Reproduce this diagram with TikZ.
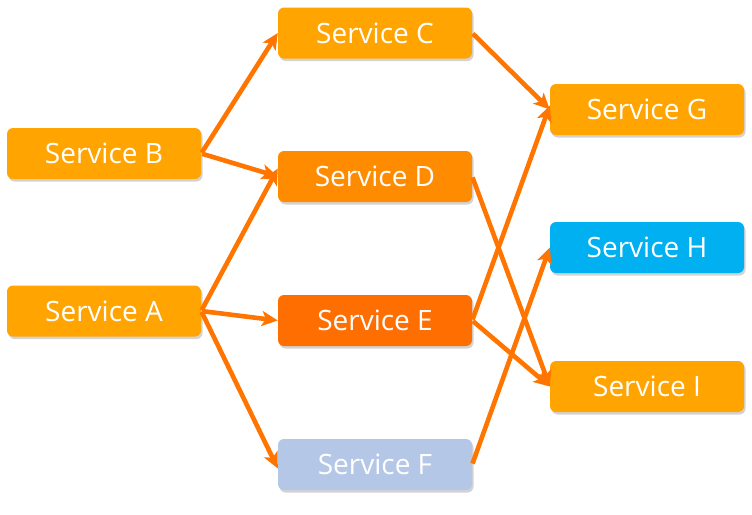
\documentclass[tikz,border=0pt]{standalone}
\usepackage{fontspec}
\setmainfont{Open Sans}
\usetikzlibrary{arrows.meta,shadows}
\definecolor{orA}{HTML}{FFA400}
\definecolor{orD}{HTML}{FF8C00}
\definecolor{orE}{HTML}{FF6E00}
\definecolor{blF}{HTML}{B4C7E7}
\definecolor{blH}{HTML}{00B0F0}
\definecolor{arr}{HTML}{FF7500}
\tikzset{
  svc/.style={rounded corners=6pt, minimum width=194pt, minimum height=51pt,
    inner sep=0pt, text=white, font=\fontsize{28}{30}\selectfont,
    drop shadow={opacity=0.35, shadow xshift=1.5pt, shadow yshift=-2.5pt}},
  link/.style={draw=arr, line width=4.6pt,
    -{Stealth[length=16pt,width=15pt,inset=4pt]}, shorten <=1pt}
}
\begin{document}
\begin{tikzpicture}[x=1pt,y=-1pt]
\useasboundingbox (0,0) rectangle (752,514);
\node[svc, fill=orA] (B) at (104,153.5) {Service B};
\node[svc, fill=orA] (A) at (104,311) {Service A};
\node[svc, fill=orA] (C) at (375,33) {Service C};
\node[svc, fill=orD] (D) at (375,176.5) {Service D};
\node[svc, fill=orE] (E) at (375,320.5) {Service E};
\node[svc, fill=blF] (F) at (375,464.5) {Service F};
\node[svc, fill=orA] (G) at (647,109.5) {Service G};
\node[svc, fill=blH] (H) at (647,247.5) {Service H};
\node[svc, fill=orA] (I) at (647,386.5) {Service I};
\draw[link] (B.east) -- (C.west);
\draw[link] (B.east) -- (D.west);
\draw[link] (A.east) -- ([yshift=8pt]D.west);
\draw[link] (A.east) -- (E.west);
\draw[link] (A.east) -- ([yshift=-4pt]F.west);
\draw[link] (C.east) -- (G.west);
\draw[link] (E.east) -- ([yshift=4pt]G.west);
\draw[link] (D.east) -- (I.west);
\draw[link] (E.east) -- (I.west);
\draw[link] (F.east) -- (H.west);
\end{tikzpicture}
\end{document}
